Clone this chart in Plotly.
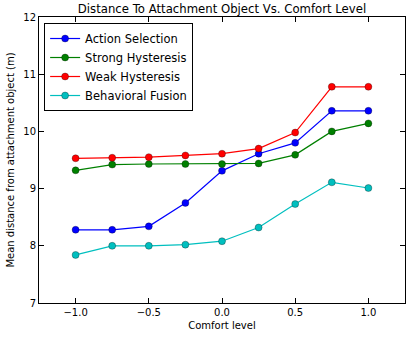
import plotly.graph_objects as go

comfort = [-1.0, -0.75, -0.5, -0.25, 0.0, 0.25, 0.5, 0.75, 1.0]
action_selection = [8.28, 8.28, 8.34, 8.75, 9.31, 9.61, 9.80, 10.36, 10.36]
strong_hysteresis = [9.32, 9.42, 9.43, 9.43, 9.43, 9.44, 9.59, 10.0, 10.14]
weak_hysteresis = [9.53, 9.54, 9.55, 9.58, 9.61, 9.70, 9.98, 10.78, 10.78]
behavioral_fusion = [7.84, 8.0, 8.0, 8.02, 8.08, 8.32, 8.73, 9.11, 9.01]

series = [
    ("Action Selection", action_selection, "#0000ff"),
    ("Strong Hysteresis", strong_hysteresis, "#008000"),
    ("Weak Hysteresis", weak_hysteresis, "#ff0000"),
    ("Behavioral Fusion", behavioral_fusion, "#00bfbf"),
]

x_ticks = [-1.0, -0.5, 0.0, 0.5, 1.0]
x_ticklabels = ["\u22121.0", "\u22120.5", "0.0", "0.5", "1.0"]
y_ticks = [7, 8, 9, 10, 11, 12]

fig = go.Figure()
for name, vals, color in series:
    fig.add_trace(go.Scatter(
        x=comfort, y=vals, name=name, mode="lines+markers",
        line=dict(color=color, width=1.2),
        marker=dict(color=color, size=7, line=dict(color="rgba(0,0,0,0.6)", width=0.5)),
    ))

font = "DejaVu Sans, sans-serif"
fig.update_layout(
    width=407, height=337,
    margin=dict(l=39, r=2, t=17, b=34),
    paper_bgcolor="white", plot_bgcolor="white",
    font=dict(family=font, size=10, color="black"),
    title=dict(text="Distance To Attachment Object Vs. Comfort Level",
               xref="paper", x=0.5, xanchor="center",
               yref="container", y=0.975, yanchor="middle",
               font=dict(size=11.7, family=font)),
    showlegend=True,
    legend=dict(x=0.014, y=0.979, xanchor="left", yanchor="top",
                bgcolor="white", bordercolor="black", borderwidth=1,
                itemwidth=30, tracegroupgap=0,
                font=dict(size=11.5, family=font)),
    xaxis=dict(range=[-1.25, 1.25], tickvals=x_ticks, ticktext=x_ticklabels,
               ticks="inside", ticklen=5, tickcolor="black", showline=True,
               linecolor="black", linewidth=1, mirror="ticks", showgrid=False,
               zeroline=False, title=dict(text="Comfort level", font=dict(size=10), standoff=4)),
    yaxis=dict(range=[7, 12], tickvals=y_ticks,
               ticks="inside", ticklen=5, tickcolor="black", showline=True,
               linecolor="black", linewidth=1, mirror="ticks", showgrid=False,
               zeroline=False, title=dict(text="Mean distance from attachment object (m)", font=dict(size=10), standoff=6)),
)

fig.write_html("out.html")
